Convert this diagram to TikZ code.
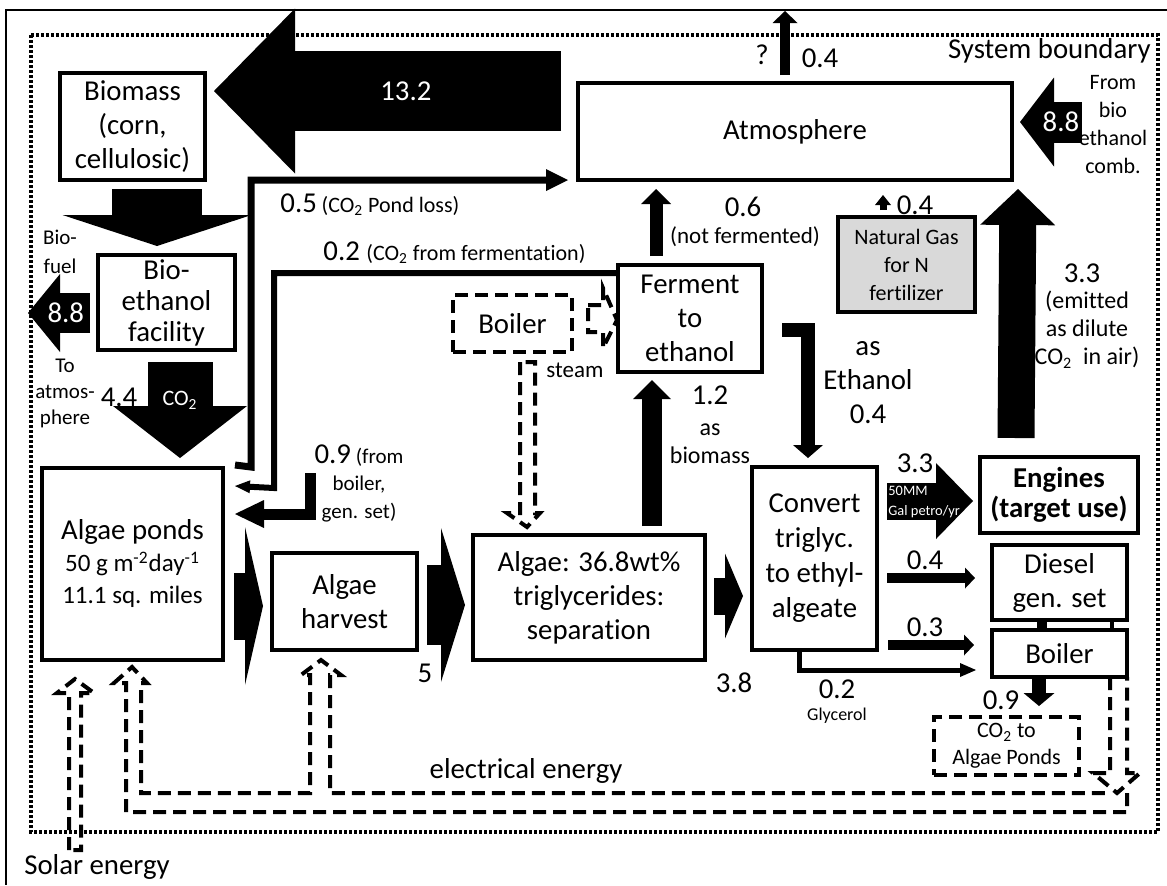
\documentclass[tikz,border=0pt]{standalone}
\usepackage{fontspec}
\setmainfont{Carlito}[Ligatures=NoCommon]
\usetikzlibrary{arrows.meta,calc}

\newcommand{\fmain}{\fontsize{14.4}{17}\selectfont}
\newcommand{\fmid}{\fontsize{12}{14}\selectfont}
\newcommand{\fsmall}{\fontsize{11}{14}\selectfont}
\newcommand{\ftiny}{\fontsize{7.2}{10}\selectfont}

\tikzset{
  box/.style={draw, line width=2pt, align=center, inner sep=0pt, font=\fmain},
  dbox/.style={box, dash pattern=on 6.5pt off 3.5pt},
  elec/.style={line width=2pt, dash pattern=on 6.5pt off 3.5pt},
  blk/.style n args={3}{line width=#1, -{Triangle[length=#2, width=#3, line width=0pt]}},
  lbl/.style={font=\fmain, inner sep=0pt, align=center},
  slbl/.style={font=\fsmall, inner sep=0pt, align=center},
  wlbl/.style={lbl, text=white},
}

\begin{document}
\begin{tikzpicture}[x=0.5pt, y=-0.5pt]
\useasboundingbox (0,0) rectangle (1167,885);
% frame and system boundary
\draw[line width=1pt] (1167,10) -- (6,10) -- (6,885);
\draw[line width=2pt, dash pattern=on 1.5pt off 1pt] (31,35) rectangle (1158,832);
\node[lbl, anchor=east] (sysb) at (1151,51) {System boundary};

% boxes
\node[box, minimum width=72.5pt, minimum height=53.5pt] (biomass) at (132.5,126.5) {Biomass\\(corn,\\cellulosic)};
\node[box, minimum width=217pt, minimum height=48.5pt] (atmos) at (795,131.5) {Atmosphere};
\node[box, fill=black!15, font=\fsmall, minimum width=68.5pt, minimum height=47.5pt] (natgas) at (906.5,264.5) {Natural Gas\\for N\\fertilizer};
\node[box, font=\fontsize{14.4}{15.5}\selectfont, minimum width=68.5pt, minimum height=47.5pt] (bioeth) at (166.5,302.5) {Bio-\\ethanol\\facility};
\node[box, minimum width=72pt, minimum height=53.5pt] (ferment) at (690,318.5) {Ferment\\to\\ethanol};
\node[dbox, minimum width=59.5pt, minimum height=28.5pt] (boilA) at (512.5,323.5) {Boiler};
\node[box, font=\fontsize{14.4}{16}\selectfont, minimum width=90.5pt, minimum height=96pt] (ponds) at (132.5,564) {Algae ponds\\{\fontsize{12.5}{16}\selectfont 50 g m\textsuperscript{-2}day\textsuperscript{-1}}\\{\fontsize{12.5}{16}\selectfont 11.1 sq. miles}};
\node[box, minimum width=72.5pt, minimum height=48.5pt] (harvest) at (344.5,601.5) {Algae\\harvest};
\node[box, minimum width=116pt, minimum height=62.5pt] (sep) at (589,597.5) {Algae: 36.8wt\%\\triglycerides:\\separation};
\node[box, font=\fontsize{14.4}{17.5}\selectfont, minimum width=62.5pt, minimum height=91.5pt] (convert) at (814.5,558.5) {Convert\\triglyc.\\to ethyl-\\algeate};
\node[box, font=\fontsize{14.4}{15}\selectfont\bfseries, minimum width=79pt, minimum height=38pt] (engines) at (1059,495) {Engines\\(target use)};
\node[box, minimum width=67.5pt, minimum height=37.5pt] (diesel) at (1059.5,582.5) {Diesel\\gen. set};
\node[box, minimum width=67.5pt, minimum height=23.5pt] (boilB) at (1059.5,653.5) {Boiler};
\node[dbox, font=\fontsize{11}{13.5}\selectfont, minimum width=72.5pt, minimum height=29pt] (co2ponds) at (1006.5,746) {CO\textsubscript{2} to\\Algae Ponds};

% big black flows
\draw[blk={40pt}{40.5pt}{82.5pt}] ($(atmos.north west)+(-15,10)$) -- ($(biomass.north east)+(7,20)$)
  node[wlbl, pos=0.447] {13.2};
\draw[blk={45pt}{15.5pt}{94.5pt}] ($(biomass.south)+(24.5,7)$) -- ($(bioeth.north)+(-9.5,-7)$);
\draw[blk={20pt}{16pt}{39pt}] ($(bioeth.west)+(-6,10.5)$) -- ($(bioeth.west)+(-68,10.5)$)
  node[wlbl, pos=0.39] {8.8};
\draw[blk={32.5pt}{26pt}{67pt}] ($(bioeth.south)+(13.5,10)$) -- ($(ponds.north)+(47.5,-8)$)
  node[wlbl, font=\fsmall, pos=0.4] {CO\textsubscript{2}};
\draw[blk={20.5pt}{17pt}{44.5pt}] ($(atmos.east)+(68,-9.5)$) -- ($(atmos.east)+(6,-9.5)$)
  node[wlbl, pos=0.34] {8.8};
\draw[blk={5pt}{6pt}{12.5pt}] ($(atmos.north)+(-10,-6)$) -- ($(atmos.north)+(-10,-70)$);
\draw[blk={6.5pt}{7.5pt}{15pt}] ($(ferment.north)+(-34,-7)$) -- ($(atmos.south)+(-139,7)$);
\draw[blk={3.5pt}{5pt}{8pt}] ($(natgas.north)+(-23.5,-5)$) -- ($(atmos.south)+(88,13)$);
\draw[blk={18.5pt}{18pt}{37.5pt}] ($(engines.north)+(-43,-17)$) -- ($(atmos.south east)+(4,7)$);
\draw[blk={10pt}{9.5pt}{19pt}] ($(sep.north)+(63,-7)$) -- ($(ferment.south)+(-38,6)$);
\draw[blk={7pt}{6.5pt}{15pt}] ($(ferment.east)+(18,11.5)$) -| ($(convert.north)+(-6.5,-7)$);
\draw[blk={33.5pt}{9pt}{79pt}] ($(ponds.east)+(9,42)$) -- ($(harvest.west)+(-7,4.5)$);
\draw[blk={40pt}{12pt}{77pt}] ($(harvest.east)+(8,3.5)$) -- ($(sep.west)+(-6,7.5)$);
\draw[blk={18.5pt}{9pt}{42.5pt}] ($(sep.east)+(7,-1.5)$) -- ($(convert.west)+(-7,37.5)$);
\draw[blk={18.5pt}{18.5pt}{38pt}] ($(convert.east)+(8,-57.5)$) -- ($(engines.west)+(-5,6)$);
\draw[blk={5pt}{5pt}{10.5pt}] ($(convert.east)+(8,19.5)$) -- ($(diesel.west)+(-15,-4.5)$);
\draw[blk={5pt}{5pt}{10.5pt}] ($(convert.east)+(9,86.5)$) -- ($(boilB.west)+(-16,-8.5)$);
\draw[blk={7pt}{6.5pt}{15.5pt}] ($(boilB.south)+(-20.5,0)$) -- ($(co2ponds.north)+(32.5,-9)$);
\draw[line width=5pt] ($(diesel.south)+(-17.5,0)$) -- ($(boilB.north)+(-17.5,0)$);

% CO2 return lines
\coordinate (fromboil) at (310,473);
\draw[blk={3.5pt}{11pt}{11pt}] ($(ponds.north east)+(10,-1)$) -- (251,467) |- ($(atmos.south west)+(-8,-2)$);
\draw[blk={3pt}{7.5pt}{6.5pt}] ($(ferment.north west)+(0,10)$) -| (274,488) -- ($(ponds.north east)+(10,20)$);
\draw[blk={5.5pt}{14.5pt}{14pt}] (fromboil) -- (310,514) -- ($(ponds.east)+(10,-50)$);
\draw[blk={2.5pt}{8pt}{7pt}] ($(convert.south)+(-15.5,0)$) |- ($(boilB.south west)+(-14,-9)$);

% steam and energy (hollow dashed arrows)
\draw[elec] (588,305) -- (603,305) -- (603,288) -- (617,320) -- (603,348) -- (603,332) -- (588,332) -- cycle;
\draw[elec] (520,362) -- (520,513) -- (507,513) -- (527,527) -- (540,513) -- (535,513) -- (535,362) -- cycle;
\draw[elec] ($(diesel.south east)+(-17,0)$) -- ($(boilB.north east)+(-17,0)$);
\draw[elec] (1110,677) -- (1110,773) -- (1093,773) -- (1117,793) -- (1140,773) -- (1127,773) -- (1127,677);
\draw[elec] (1127,793) -- (1127,812) -- (126,812) -- (126,683) -- (114,683) -- (132,667) -- (147,683)
  -- (141,683) -- (141,793) -- (310,793) -- (310,675) -- (301,675) -- (321,660) -- (341,675)
  -- (330,675) -- (330,793) -- (1105,793);
\draw[elec] (69,850) -- (69,693) -- (57,693) -- (75,679) -- (94,693) -- (81,693) -- (81,850) -- cycle;

% labels
\node[lbl] (q) at (762,55) {?};
\node[lbl] (l04a) at (820,58) {0.4};
\node[slbl] (frombio) at (1113,125) {From\\bio\\ethanol\\comb.};
\node[lbl] (l04b) at (915,205) {0.4};
\node[lbl] (l06) at (743,207) {0.6};
\node[slbl, font=\fontsize{11.5}{14}\selectfont] (notferm) at (745,237) {(not fermented)};
\node[lbl] (l33a) at (1082,273) {3.3};
\node[slbl, font=\fontsize{12}{14}\selectfont] (emitted) at (1087,330) {(emitted\\as dilute\\CO\textsubscript{2}~ in air)};
\node[lbl, anchor=west] (l05) at (280,205) {0.5\,{\fsmall(CO\textsubscript{2} Pond loss)}};
\node[lbl, anchor=west] (l02) at (323,253) {0.2 {\fsmall(CO\textsubscript{2} from fermentation)}};
\node[slbl, font=\fontsize{10.5}{14.5}\selectfont] (biofuel) at (60,252) {Bio-\\fuel};
\node[slbl, font=\fontsize{10.5}{13}\selectfont] (toatm) at (65,393) {To\\atmos-\\phere};
\node[lbl] (l44) at (119,397) {4.4};
\node[slbl, font=\fontsize{11.5}{14}\selectfont] (steam) at (575,370) {steam};
\node[lbl, font=\fontsize{14.4}{17}\selectfont] (asethanol) at (868,383) {as\\Ethanol\\0.4};
\node[lbl] (l12) at (710,395) {1.2};
\node[slbl, font=\fontsize{12}{14}\selectfont] (asbio) at (710,444) {as\\biomass};
\node[slbl, font=\fontsize{10.5}{13.75}\selectfont] (l09a) at (359,483) {{\fmain 0.9} (from\\boiler,\\gen. set)};
\node[lbl] (l33b) at (915,463) {3.3};
\node[slbl, font=\ftiny, text=white, align=left, anchor=west] (petro) at (888,502) {50MM\\Gal petro/yr};
\node[lbl] (l04c) at (925,560) {0.4};
\node[lbl] (l03) at (925,627) {0.3};
\node[lbl] (l5) at (425,673) {5};
\node[lbl] (l38) at (734,683) {3.8};
\node[lbl] (l02g) at (837,689) {0.2};
\node[slbl, font=\fontsize{9}{11}\selectfont] (glyc) at (837,716) {Glycerol};
\node[lbl] (l09b) at (1001,700) {0.9};
\node[lbl] (elecen) at (526,771) {electrical energy};
\node[lbl] (solar) at (97,867) {Solar energy};
\end{tikzpicture}
\end{document}
